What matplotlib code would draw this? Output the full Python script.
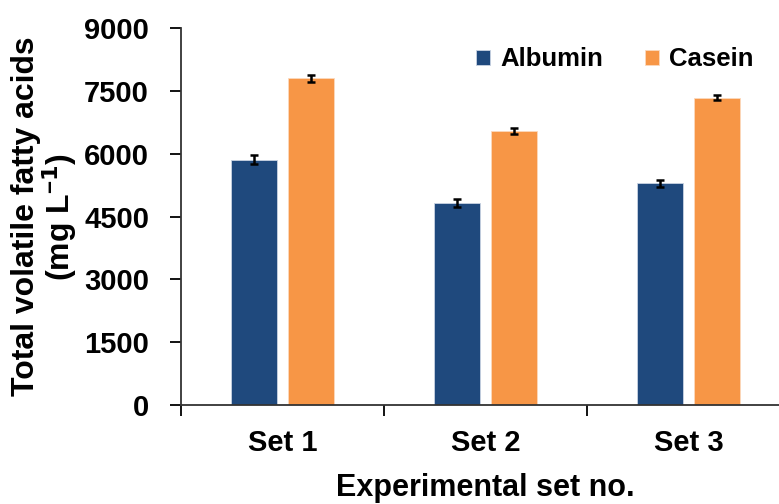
import matplotlib
matplotlib.use("Agg")
import matplotlib.pyplot as plt
import numpy as np

plt.rcParams['font.family'] = ['Liberation Sans', 'DejaVu Sans']
plt.rcParams['font.weight'] = 'bold'
plt.rcParams['mathtext.fontset'] = 'custom'
plt.rcParams['mathtext.rm'] = 'Liberation Sans:bold'
plt.rcParams['mathtext.default'] = 'rm'

sets = ["Set 1", "Set 2", "Set 3"]
albumin = [5860, 4820, 5290]
albumin_err = [100, 90, 90]
casein = [7800, 6540, 7340]
casein_err = [80, 80, 60]
yticks = [0, 1500, 3000, 4500, 6000, 7500, 9000]

fig = plt.figure(figsize=(7.79, 5.04), dpi=100)
ax = fig.add_axes([0.2324, 0.1964, 0.7818, 0.748])

x = np.arange(1, len(sets) + 1)
w = 0.225
off = 0.14
ax.bar(x - off, albumin, w, color="#1F497D", edgecolor="#c9d3e3", linewidth=0.6,
       label="Albumin", zorder=2)
ax.bar(x + off, casein, w, color="#F79646", edgecolor="#fcd9bd", linewidth=0.6,
       label="Casein", zorder=2)
ax.errorbar(x - off, albumin, yerr=albumin_err, fmt="none", ecolor="black",
            elinewidth=1.8, capsize=3, capthick=1.8, zorder=3)
ax.errorbar(x + off, casein, yerr=casein_err, fmt="none", ecolor="black",
            elinewidth=1.8, capsize=3, capthick=1.8, zorder=3)

ax.set_xlim(0.5, len(sets) + 0.5)
ax.set_ylim(0, 9000)
ax.set_yticks(yticks)
ax.set_yticklabels([str(v) for v in yticks], fontsize=21, fontweight="bold")
ax.set_xticks(np.arange(0.5, len(sets) + 1, 1.0))
ax.set_xticklabels([])
ax.set_xticks(x, minor=True)
ax.set_xticklabels(sets, minor=True, fontsize=21, fontweight="bold")
ax.tick_params(axis="x", which="major", direction="out", length=8, width=1.3)
ax.tick_params(axis="x", which="minor", length=0, pad=17)
ax.tick_params(axis="y", direction="out", length=8, width=1.3, pad=15)

for s in ["top", "right"]:
    ax.spines[s].set_visible(False)
for s in ["left", "bottom"]:
    ax.spines[s].set_linewidth(1.3)
    ax.spines[s].set_color("#333333")

ax.set_ylabel("Total volatile fatty acids\n(mg L$^{\u2212\\mathbf{1}}$)", fontsize=23,
              fontweight="bold", labelpad=4, linespacing=0.95)
ax.set_xlabel("Experimental set no.", fontsize=22, fontweight="bold", labelpad=12)

leg = ax.legend(loc="upper right", bbox_to_anchor=(0.978, 1.01), ncol=2, frameon=False,
                fontsize=18.5, handlelength=0.55, handleheight=0.55, handletextpad=0.4,
                columnspacing=1.6)

fig.savefig("out.png", dpi=100)
